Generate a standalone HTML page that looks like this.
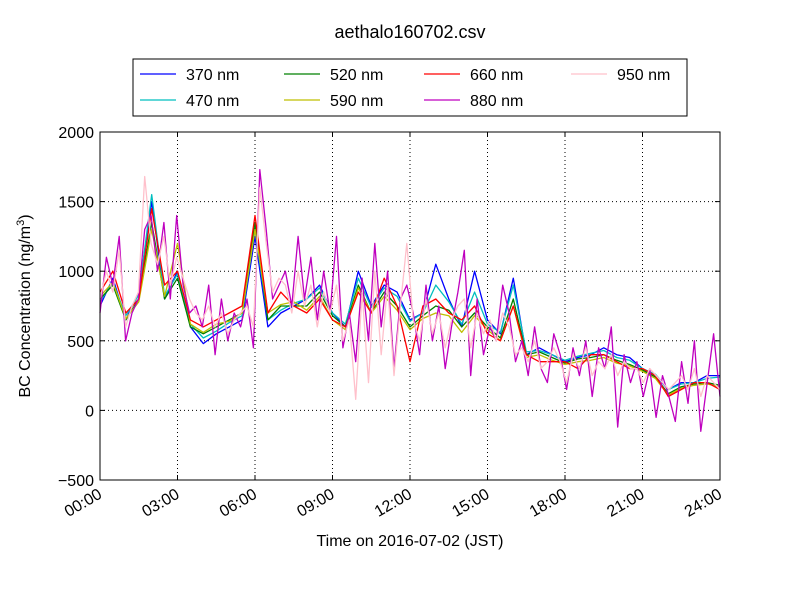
<!DOCTYPE html>
<html><head><meta charset="utf-8"><style>
body{margin:0;background:#fff;}
svg{font-family:"Liberation Sans","DejaVu Sans",sans-serif;}
</style></head><body>
<svg id="chart" width="800" height="600">
<rect width="800" height="600" fill="#fff"/>
<text x="410" y="38" font-size="18" text-anchor="middle">aethalo160702.csv</text>
<g id="grid"></g>
<g id="series"></g>
<rect x="100" y="132" width="620" height="348" fill="none" stroke="#000" stroke-width="1"/>
<g id="axes"></g>
<text x="410" y="546" font-size="16" text-anchor="middle">Time on 2016-07-02 (JST)</text>
<text transform="translate(30,306) rotate(-90)" font-size="16" text-anchor="middle">BC Concentration (ng/m<tspan font-size="11" dy="-6">3</tspan><tspan dy="6">)</tspan></text>
<g id="legend">
<rect x="133" y="59" width="554" height="57" fill="#fff" stroke="#000"/>
</g>
</svg>
<script>
const xTickLabels=["00:00","03:00","06:00","09:00","12:00","15:00","18:00","21:00","24:00"];
const yTickLabels=[-500,0,500,1000,1500,2000];
const seriesNames=["370 nm","470 nm","520 nm","590 nm","660 nm","880 nm","950 nm"];
const seriesColors=["#0000ff","#00bfbf","#008000","#bfbf00","#ff0000","#bf00bf","#ffc0cb"];
const s370=[750,950,650,850,1500,800,1000,600,480,550,600,650,1250,600,700,750,800,900,700,600,1000,750,900,850,650,700,1050,800,600,1000,650,550,950,400,450,400,350,380,400,450,400,380,300,250,150,200,200,250,250];
const s470=[780,920,680,830,1550,820,980,620,520,570,630,680,1300,650,720,770,800,880,700,620,950,740,880,820,640,700,900,780,620,850,620,560,900,420,430,400,360,390,410,430,380,360,300,260,150,190,200,230,240];
const s520=[800,900,650,800,1350,800,950,600,550,600,650,700,1350,650,750,750,750,850,680,600,900,700,850,750,600,680,750,720,600,700,600,520,800,400,420,380,340,370,380,400,360,330,290,240,120,170,190,200,180];
const s590=[820,920,660,780,1300,820,1200,620,560,620,640,700,1300,700,760,780,720,820,650,580,880,700,820,720,580,660,700,680,560,680,580,500,750,380,400,360,330,350,360,380,340,320,280,230,110,160,180,190,170];
const s660=[850,1000,700,800,1450,900,1000,650,600,650,700,750,1400,700,850,750,700,800,650,600,850,700,950,750,350,750,800,700,650,750,550,500,750,400,350,350,350,300,400,400,350,300,300,250,100,150,200,200,150];
const s880=[700,1100,900,1250,500,700,800,1300,1400,1000,1350,800,1400,900,700,750,600,900,400,800,500,700,600,800,450,1730,1300,800,900,1000,750,1250,800,1100,650,1000,700,1250,450,700,350,950,500,1200,600,1000,300,800,900,700,400,900,500,750,300,600,850,1150,250,800,400,600,500,900,700,350,500,250,600,300,200,550,400,150,450,250,500,100,450,300,600,-120,400,200,350,100,300,-50,250,100,-80,350,50,500,-150,200,550,100];
const s950=[800,1000,850,1150,600,750,850,1680,1200,1050,1250,900,1100,950,800,700,650,750,600,700,550,650,700,750,600,1600,1200,850,950,900,700,1000,750,900,600,850,700,900,500,650,80,850,200,1000,400,900,250,750,1200,650,500,800,550,700,450,650,750,800,450,700,550,650,500,700,600,400,450,350,500,300,350,450,350,200,400,300,450,250,350,300,400,250,350,300,300,200,300,250,200,150,200,250,150,300,100,250,200,150];
const allSeries=[s370,s470,s520,s590,s660,s880,s950];
const NS="http://www.w3.org/2000/svg";
const X0=100,X1=720,Y0=480,Y1=132;
function xs(h){return X0+(h/24)*(X1-X0);}
function ys(v){return Y0-(v+500)/2500*(Y0-Y1);}
function mk(tag,attrs,parent){const e=document.createElementNS(NS,tag);for(const k in attrs)e.setAttribute(k,attrs[k]);parent.appendChild(e);return e;}
const grid=document.getElementById('grid'),axes=document.getElementById('axes'),ser=document.getElementById('series'),leg=document.getElementById('legend');
xTickLabels.forEach((t,i)=>{
  const x=xs(i*3);
  if(i>0&&i<xTickLabels.length-1){const g=mk('line',{x1:x,x2:x,y1:Y1,y2:Y0,stroke:'#000','stroke-dasharray':'1,3'},grid);
  
  }
  mk('line',{x1:x,x2:x,y1:Y0,y2:Y0-5,stroke:'#000'},axes);
  mk('line',{x1:x,x2:x,y1:Y1,y2:Y1+5,stroke:'#000'},axes);
  const tx=mk('text',{x:x,y:Y0+18,'font-size':'16','text-anchor':'end',transform:`rotate(-30 ${x} ${Y0+12})`},axes);
  tx.textContent=t;
  
  
});
yTickLabels.forEach((v,i)=>{
  const y=ys(v);
  if(i>0&&i<yTickLabels.length-1){const g=mk('line',{x1:X0,x2:X1,y1:y,y2:y,stroke:'#000','stroke-dasharray':'1,3'},grid);
  
  }
  mk('line',{x1:X0,x2:X0+5,y1:y,y2:y,stroke:'#000'},axes);
  mk('line',{x1:X1,x2:X1-5,y1:y,y2:y,stroke:'#000'},axes);
  const tx=mk('text',{x:X0-6,y:y+6,'font-size':'16','text-anchor':'end'},axes);
  tx.textContent=(v<0?'\u2212'+(-v):v);
  
  
});
allSeries.forEach((arr,si)=>{
  const n=arr.length;
  const pts=arr.map((v,i)=>xs(i*24/(n-1)).toFixed(1)+','+ys(v).toFixed(1)).join(' ');
  const p=mk('polyline',{points:pts,fill:'none',stroke:seriesColors[si],'stroke-width':'1.3','stroke-linejoin':'round'},ser);
  
  
});
const colX=[140,284,424,571];
seriesNames.forEach((nm,i)=>{
  const c=Math.floor(i/2),r=i%2;
  const x=colX[c],y=74+r*26;
  const g=mk('g',{},leg);
  
  
  mk('line',{x1:x,x2:x+36,y1:y,y2:y,stroke:seriesColors[i],'stroke-width':'1.2'},g);
  const t=mk('text',{x:x+46,y:y+6,'font-size':'16'},g);
  t.textContent=nm;
});
</script>
</body></html>
